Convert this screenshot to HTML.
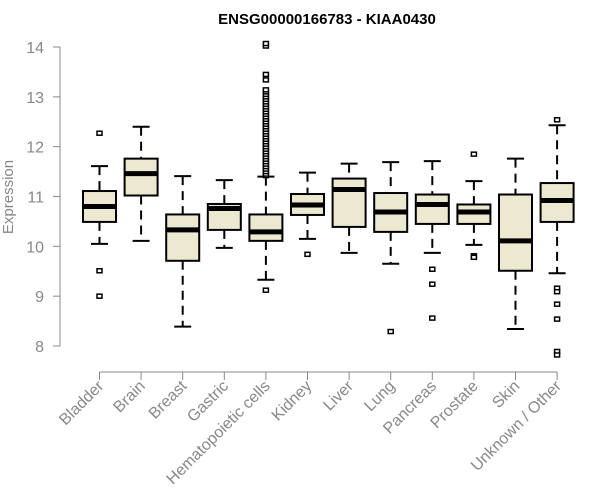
<!DOCTYPE html>
<html><head><meta charset="utf-8"><style>
html,body{margin:0;padding:0;background:#fff;width:600px;height:500px;overflow:hidden}
svg{display:block;font-family:"Liberation Sans",Arial,sans-serif}
</style></head><body>
<svg id="chart" width="600" height="500">
<text x="327" y="24" text-anchor="middle" font-size="15" font-weight="bold">ENSG00000166783 - KIAA0430</text>
<text transform="translate(13,197) rotate(-90)" text-anchor="middle" font-size="15" fill="#888">Expression</text>
<g id="yaxis"></g>
<g id="xaxis"></g>
<g id="boxes"></g>
</svg>
<script>
const categories=["Bladder","Brain","Breast","Gastric","Hematopoietic cells","Kidney","Liver","Lung","Pancreas","Prostate","Skin","Unknown / Other"];
const whiskerLow=[10.05,10.11,8.39,9.97,9.33,10.15,9.87,9.65,9.87,10.03,8.34,9.46];
const q1=[10.49,11.02,9.71,10.33,10.11,10.63,10.39,10.29,10.45,10.45,9.51,10.49];
const medians=[10.80,11.46,10.33,10.76,10.29,10.83,11.14,10.69,10.84,10.69,10.11,10.92];
const q3=[11.11,11.76,10.64,10.85,10.64,11.05,11.36,11.07,11.04,10.84,11.04,11.27];
const whiskerHigh=[11.61,12.40,11.41,11.33,11.40,11.48,11.66,11.69,11.71,11.31,11.76,12.43];
const outliers=[[12.27,9.51,9.00],[],[],[],
[9.12,11.42,11.45,11.5,11.55,11.6,11.65,11.7,11.75,11.8,11.85,11.9,11.95,12.0,12.05,12.1,12.15,12.2,12.25,12.3,12.35,12.4,12.45,12.5,12.55,12.6,12.65,12.7,12.75,12.8,12.85,12.9,12.95,13.0,13.05,13.1,13.14,13.34,13.45,14.02,14.07],
[9.84],[],[8.29],[9.54,9.24,8.56],[11.85,9.81,9.78],[],[12.54,9.16,9.09,8.84,8.54,7.89,7.82]];
const yTicks=[8,9,10,11,12,13,14];

const NS="http://www.w3.org/2000/svg";
const y=v=>346-(v-8)*49.83;
const x=i=>99.5+i*41.6;
function mk(tag,attrs,parent){const e=document.createElementNS(NS,tag);for(const k in attrs)e.setAttribute(k,attrs[k]);parent.appendChild(e);return e;}
const ya=document.getElementById('yaxis'),xa=document.getElementById('xaxis'),bx=document.getElementById('boxes');
mk('line',{x1:60,x2:60,y1:y(8),y2:y(14),stroke:'#888','stroke-width':1},ya);
yTicks.forEach(t=>{
  const l=mk('line',{x1:53,x2:60,y1:y(t),y2:y(t),stroke:'#888'},ya);
  
  
  const tx=mk('text',{x:44,y:y(t)+6,'text-anchor':'end','font-size':16,fill:'#888'},ya);
  tx.textContent=t;
  
  
});
mk('line',{x1:x(0),x2:x(categories.length-1),y1:372,y2:372,stroke:'#888'},xa);
categories.forEach((c,i)=>{
  const l=mk('line',{x1:x(i),x2:x(i),y1:372,y2:380,stroke:'#888'},xa);
  
  
  const tx=mk('text',{transform:`translate(${x(i)+5},${387}) rotate(-45)`,'text-anchor':'end','font-size':16,fill:'#888'},xa);
  tx.textContent=c;
  
  
  const g=mk('g',{},bx);
  
  
  const cx=x(i),hw=16.5,cw=8.5;
  mk('line',{x1:cx,x2:cx,y1:y(whiskerHigh[i]),y2:y(q3[i]),stroke:'#000','stroke-width':2,'stroke-dasharray':'9,6'},g);
  mk('line',{x1:cx,x2:cx,y1:y(q1[i]),y2:y(whiskerLow[i]),stroke:'#000','stroke-width':2,'stroke-dasharray':'9,6'},g);
  mk('line',{x1:cx-cw,x2:cx+cw,y1:y(whiskerHigh[i]),y2:y(whiskerHigh[i]),stroke:'#000','stroke-width':2},g);
  mk('line',{x1:cx-cw,x2:cx+cw,y1:y(whiskerLow[i]),y2:y(whiskerLow[i]),stroke:'#000','stroke-width':2},g);
  mk('rect',{x:cx-hw,y:y(q3[i]),width:2*hw,height:y(q1[i])-y(q3[i]),fill:'#ede8d0',stroke:'#000','stroke-width':2},g);
  mk('line',{x1:cx-hw,x2:cx+hw,y1:y(medians[i]),y2:y(medians[i]),stroke:'#000','stroke-width':5},g);
  outliers[i].forEach(v=>{
    const o=mk('rect',{x:cx-2.5,y:y(v)-2,width:5,height:4,fill:'#fff',stroke:'#000','stroke-width':1.5},g);
    
    
  });
});
</script>
</body></html>
